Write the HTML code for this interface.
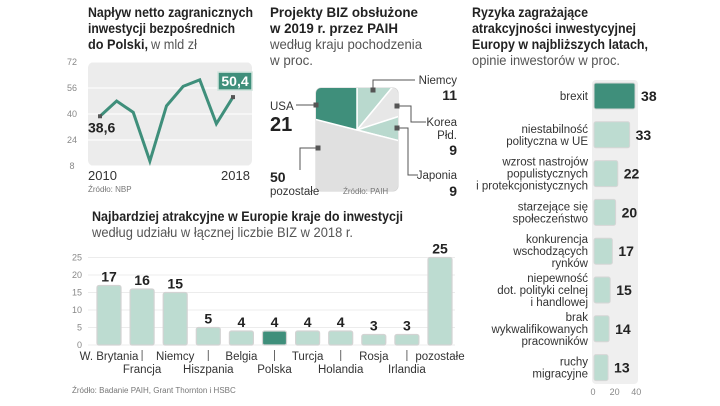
<!DOCTYPE html>
<html><head><meta charset="utf-8"><style>
body{margin:0;background:#fff;}
svg{display:block;font-family:"Liberation Sans Narrow","Liberation Sans",sans-serif;}
.t{font-weight:bold;font-size:14px;fill:#222;}
.s{font-size:14px;fill:#555;}
.tk{font-size:9px;fill:#888;}
.src{font-size:8px;fill:#777;}
.lb{font-size:11.5px;fill:#333;}
.v{font-weight:bold;font-size:14px;fill:#222;}
</style></head><body>
<svg id="c" width="720" height="406" viewBox="0 0 720 406">
<defs><clipPath id="pc"><rect x="316" y="88" width="82" height="103" rx="5"/></clipPath></defs>
<!-- Panel 1 -->
<g>
<text class="t" x="88" y="17" textLength="165" lengthAdjust="spacingAndGlyphs">Napływ netto zagranicznych</text>
<text class="t" x="88" y="33" textLength="147" lengthAdjust="spacingAndGlyphs">inwestycji bezpośrednich</text>
<text class="t" x="88" y="49" textLength="60" lengthAdjust="spacingAndGlyphs">do Polski,</text>
<text class="s" x="151" y="49" textLength="46" lengthAdjust="spacingAndGlyphs">w mld zł</text>
<rect x="88" y="62" width="164" height="104" rx="6" fill="#ececec"/>
<g id="fdi"></g>
<text x="88" y="180" font-size="13" fill="#333">2010</text>
<text x="221" y="180" font-size="13" fill="#333">2018</text>
<text class="src" x="88" y="192">Źródło: NBP</text>
</g>
<!-- Panel 2 -->
<g>
<text class="t" x="270" y="17" textLength="148" lengthAdjust="spacingAndGlyphs">Projekty BIZ obsłużone</text>
<text class="t" x="270" y="33" textLength="128" lengthAdjust="spacingAndGlyphs">w 2019 r. przez PAIH</text>
<text class="s" x="270" y="49" textLength="152" lengthAdjust="spacingAndGlyphs">według kraju pochodzenia</text>
<text class="s" x="270" y="65" textLength="43" lengthAdjust="spacingAndGlyphs">w proc.</text>
<rect x="316" y="88" width="82" height="103" rx="5" fill="#e3e3e3" stroke="#d0d0d0"/>
<g id="pie" clip-path="url(#pc)"></g>
<g stroke="#555" fill="none" stroke-width="1">
<polyline points="373,90 373,80 415,80"/><polyline points="316,105 296,105"/>
<polyline points="397,106 411,106 411,122 426,122"/><polyline points="397,128 408,128 408,175 418,175"/>
<polyline points="318,148 300,148 300,170"/></g>
<g fill="#555"><rect x="370.5" y="87.5" width="5" height="5"/><rect x="313.5" y="102.5" width="5" height="5"/><rect x="394.5" y="103.5" width="5" height="5"/><rect x="394.5" y="125.5" width="5" height="5"/><rect x="315.5" y="145.5" width="5" height="5"/></g>
<text class="lb" x="457" y="84" text-anchor="end">Niemcy</text>
<text class="v" x="457" y="100" text-anchor="end">11</text>
<text class="lb" x="270" y="110">USA</text>
<text x="270" y="131" font-weight="bold" font-size="20" fill="#222">21</text>
<text class="lb" x="457" y="126" text-anchor="end">Korea</text>
<text class="lb" x="457" y="139" text-anchor="end">Płd.</text>
<text class="v" x="457" y="155" text-anchor="end">9</text>
<text class="lb" x="457" y="179" text-anchor="end">Japonia</text>
<text class="v" x="457" y="196" text-anchor="end">9</text>
<text class="v" x="270" y="182">50</text>
<text class="lb" x="270" y="195">pozostałe</text>
<text class="src" x="343" y="194">Źródło: PAIH</text>
</g>
<!-- Panel 3 -->
<g>
<text class="t" x="472" y="17" textLength="116" lengthAdjust="spacingAndGlyphs">Ryzyka zagrażające</text>
<text class="t" x="472" y="33" textLength="164" lengthAdjust="spacingAndGlyphs">atrakcyjności inwestycyjnej</text>
<text class="t" x="472" y="49" textLength="176" lengthAdjust="spacingAndGlyphs">Europy w najbliższych latach,</text>
<text class="s" x="472" y="65" textLength="148" lengthAdjust="spacingAndGlyphs">opinie inwestorów w proc.</text>
<rect x="592" y="80" width="46" height="304" rx="4" fill="#efefef"/>
<g id="risk"></g>
</g>
<!-- Panel 4 -->
<g>
<text class="t" x="92" y="221" textLength="311" lengthAdjust="spacingAndGlyphs">Najbardziej atrakcyjne w Europie kraje do inwestycji</text>
<text class="s" x="92" y="237" textLength="261" lengthAdjust="spacingAndGlyphs">według udziału w łącznej liczbie BIZ w 2018 r.</text>
<g id="cty"></g>
<text class="src" x="72" y="393">Źródło: Badanie PAIH, Grant Thornton i HSBC</text>
</g>
</svg>
<script>
const NS="http://www.w3.org/2000/svg";
function mk(p,tag,a,txt){const e=document.createElementNS(NS,tag);for(const k in a)e.setAttribute(k,a[k]);if(txt!==undefined)e.textContent=txt;document.getElementById(p).appendChild(e);return e;}
const DARK="#3f8f7b",LIGHT="#bddcd1";
// ---- FDI line
const fdiYears=[2010,2011,2012,2013,2014,2015,2016,2017,2018];
const fdiValues=[38.6,48,41,11,45,57,61,34,50.4];
const fdiTicks=[8,24,40,56,72];
const fx=i=>100+i*(233-100)/(fdiYears.length-1);
const fy=v=>166-(v-8)*104/64;
fdiTicks.forEach(t=>{
 const l=mk('fdi','line',{x1:88,x2:252,y1:fy(t),y2:fy(t),stroke:'#fff','stroke-width':1});
 
 
 const tx=mk('fdi','text',{x:72,y:fy(t)+3,'class':'tk','text-anchor':'middle'},t);
 
 
});
const pl=mk('fdi','polyline',{points:fdiValues.map((v,i)=>fx(i)+','+fy(v)).join(' '),fill:'none',stroke:DARK,'stroke-width':3,'stroke-linejoin':'miter'});


[0,fdiValues.length-1].forEach(i=>{const d=mk('fdi','rect',{x:fx(i)-2,y:fy(fdiValues[i])-2,width:4,height:4,fill:'#555'});});
const first=mk('fdi','text',{x:88,y:fy(fdiValues[0])+16,'class':'v'},String(fdiValues[0]).replace('.',','));


const last=fdiValues[fdiValues.length-1];
const bx=mk('fdi','rect',{x:218,y:fy(last)-25,width:34,height:18,fill:DARK,stroke:'#cfe3dc','stroke-width':1.5});


const lt=mk('fdi','text',{x:235,y:fy(last)-11,'class':'v','text-anchor':'middle',fill:'#fff',style:'fill:#fff'},String(last).replace('.',','));


// ---- Pie
const pieLabels=['Niemcy','Korea Płd.','Japonia','pozostałe','USA'];
const pieValues=[11,9,9,50,21];
const pieColors=['#b9d9ce','#e7e7e7','#b9d9ce','#e0e0e0',DARK];
let ang=-90;const cx=357,cy=130,R=150;
pieValues.forEach((v,i)=>{
 const a0=ang*Math.PI/180,a1=(ang+v*3.6)*Math.PI/180;ang+=v*3.6;
 const large=v*3.6>180?1:0;
 const d=`M${cx},${cy} L${cx+R*Math.cos(a0)},${cy+R*Math.sin(a0)} A${R},${R} 0 ${large} 1 ${cx+R*Math.cos(a1)},${cy+R*Math.sin(a1)} Z`;
 const p=mk('pie','path',{d:d,fill:pieColors[i],stroke:'#fff','stroke-width':1.5});
 
 
});
// ---- Risks
const riskLabels=[['brexit'],['niestabilność','polityczna w UE'],['wzrost nastrojów','populistycznych','i protekcjonistycznych'],['starzejące się','społeczeństwo'],['konkurencja','wschodzących','rynków'],['niepewność','dot. polityki celnej','i handlowej'],['brak','wykwalifikowanych','pracowników'],['ruchy','migracyjne']];
const riskValues=[38,33,22,20,17,15,14,13];
const riskTicks=[0,20,40];
const rx=v=>594+v*1.08;
const ry=i=>96+i*38.8;
riskValues.forEach((v,i)=>{
 const r=mk('risk','rect',{x:594,y:ry(i)-13,width:rx(v)-594,height:26,rx:2,fill:i===0?DARK:LIGHT,stroke:'#d6d6d6','stroke-width':1});
 
 
 const t=mk('risk','text',{x:rx(v)+6,y:ry(i)+5,'class':'v'},v);
 
 
 const lines=riskLabels[i];
 lines.forEach((s,j)=>{
  const l=mk('risk','text',{x:588,y:ry(i)+4+(j-(lines.length-1)/2)*12,'class':'lb','text-anchor':'end'},s);
  
  
 });
});
riskTicks.forEach(t=>{const e=mk('risk','text',{x:rx(t)-1,y:395,'class':'tk','text-anchor':'middle'},t);});
// ---- Countries
const ctyNames=['W. Brytania','Francja','Niemcy','Hiszpania','Belgia','Polska','Turcja','Holandia','Rosja','Irlandia','pozostałe'];
const ctyValues=[17,16,15,5,4,4,4,4,3,3,25];
const ctyTicks=[0,5,10,15,20,25];
const cx2=i=>109+i*33.1;
const cy2=v=>345-v*3.5;
ctyTicks.forEach(t=>{
 const g=mk('cty','line',{x1:88,x2:455,y1:cy2(t),y2:cy2(t),stroke:'#ececec'});
 
 
 const e=mk('cty','text',{x:82,y:cy2(t)+3,'class':'tk','text-anchor':'end'},t);
 
 
});
ctyValues.forEach((v,i)=>{
 const b=mk('cty','rect',{x:cx2(i)-12,y:cy2(v),width:24,height:345-cy2(v),rx:2,fill:ctyNames[i]==='Polska'?DARK:LIGHT,stroke:'#d3d3d3','stroke-width':1.2});
 
 
 const t=mk('cty','text',{x:cx2(i),y:cy2(v)-4,'class':'v','text-anchor':'middle'},v);
 
 
 const l=mk('cty','text',{x:cx2(i),y:i%2?373:360,'class':'lb','text-anchor':'middle','font-size':12},ctyNames[i]);
 
 
 if(i%2){const s=mk('cty','line',{x1:cx2(i),x2:cx2(i),y1:350,y2:361,stroke:'#666'});}
});
</script>
</body></html>
